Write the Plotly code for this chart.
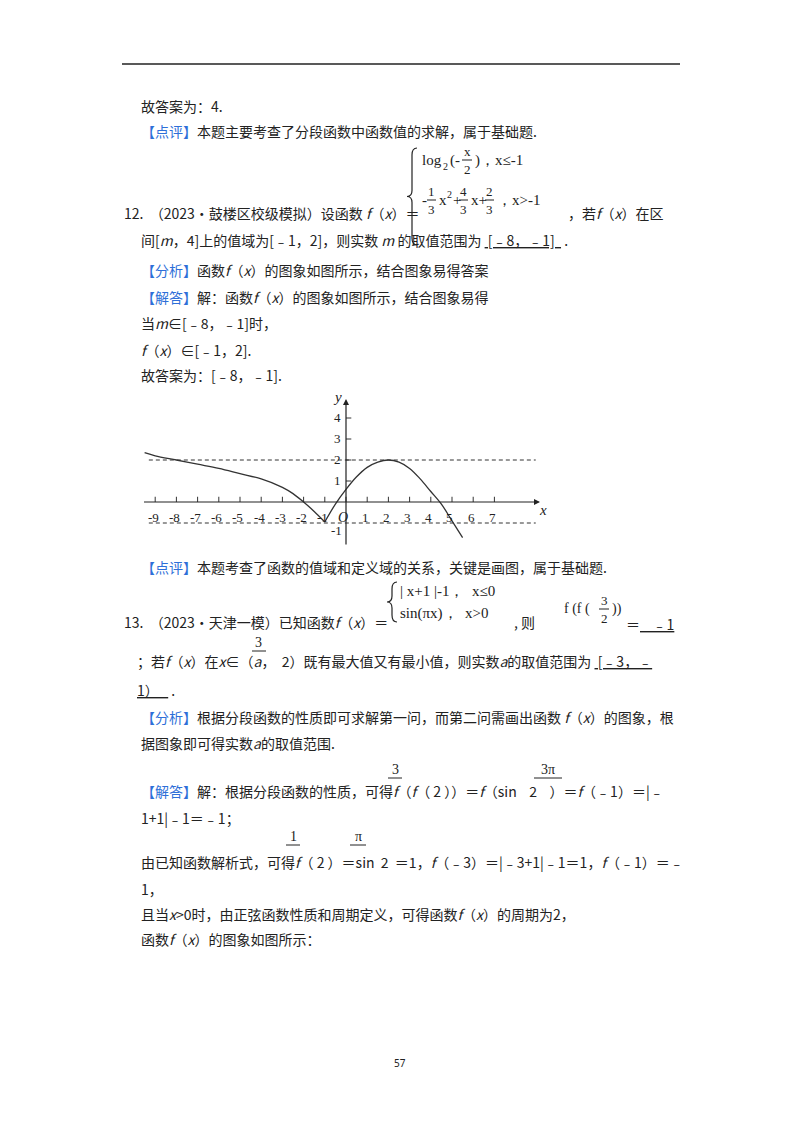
import plotly.graph_objects as go

# ---- data ----
log_x = [-9.5, -9, -8, -7, -6, -5, -4, -3, -2.5, -2, -1.5, -1]
log_y = [2.35, 2.2, 2.0, 1.8, 1.6, 1.35, 1.1, 0.7, 0.4, 0.0, -0.45, -0.95]
par_x = [-1, -0.5, 0, 0.5, 1, 1.5, 2, 2.5, 3, 3.5, 4, 4.5, 5, 5.5]
par_y = [-0.95, -0.1, 0.6, 1.2, 1.65, 1.9, 2.0, 1.9, 1.6, 1.1, 0.5, -0.1, -0.9, -1.7]
x_ticks = [-9, -8, -7, -6, -5, -4, -3, -2, -1, 1, 2, 3, 4, 5, 6, 7]
y_ticks = [1, 2, 3, 4]
y_tick_labels = ["1", "2", "3", "4"]
dash_levels = [2, -1]

W, H = 800, 1132
OFF = 8  # page body margin
CJK = "Noto Sans CJK SC"
SERIF = "Liberation Serif"
BLUE = "#2e6fd8"

fig = go.Figure()
ann = []
shapes = []

def px2(px, py):
    return (px - OFF) / W, 1 - (py - OFF) / H

def T(px, py, text, size=14, font=CJK, anchor="left", color="#222"):
    x, y = px2(px, py)
    ann.append(dict(x=x, y=y, xref="paper", yref="paper", text=text,
                    showarrow=False, xanchor=anchor, yanchor="middle",
                    font=dict(family=font, size=size, color=color)))

def L(x0, y0, x1, y1, w=1, color="#222"):
    a, b = px2(x0, y0)
    c, d = px2(x1, y1)
    shapes.append(dict(type="line", xref="paper", yref="paper", x0=a, y0=b, x1=c, y1=d,
                       line=dict(color=color, width=w)))

def brace(x, top, bot):
    mid = (top + bot) / 2
    pts = [(x + 5, top), (x, top), (x, top + 7), (x, mid - 6), (x, mid), (x - 5, mid),
           (x, mid), (x, mid + 6), (x, bot - 7), (x, bot), (x + 5, bot)]
    P = [px2(a, b) for a, b in pts]
    f = lambda p: f"{p[0]:.5f},{p[1]:.5f}"
    path = (f"M{f(P[0])} Q{f(P[1])} {f(P[2])} L{f(P[3])} Q{f(P[4])} {f(P[5])} "
            f"Q{f(P[6])} {f(P[7])} L{f(P[8])} Q{f(P[9])} {f(P[10])}")
    shapes.append(dict(type="path", xref="paper", yref="paper", path=path,
                       line=dict(color="#222", width=1.2)))

def B(t):
    return f"<span style='color:{BLUE}'>{t}</span>"

def frac(px, py, num, den, size=13, width=14):
    T(px + width / 2, py - 9, num, size, SERIF, "center")
    L(px, py, px + width, py, 1)
    if den:
        T(px + width / 2, py + 9, den, size, SERIF, "center")

# page header rule and number
L(122, 64, 680, 64, 1.5)
T(400, 1063, "57", 10, "Noto Sans", "center")

# ---- problem 11 tail ----
T(139, 106, "故答案为：4.")
T(139, 131, B("【点评】") + "本题主要考查了分段函数中函数值的求解，属于基础题.")

# ---- problem 12 ----
brace(412, 148, 245)
T(420, 160, "log", 15, SERIF)
T(441, 166, "2", 10, SERIF)
T(448, 160, "(-", 15, SERIF)
frac(462, 160, "x", "2", 13, 10)
T(473, 160, ")，x≤-1", 15, SERIF)
T(420, 200, "-", 15, SERIF)
frac(427, 200, "1", "3", 13, 9)
T(437, 200, "x", 15, SERIF)
T(445, 194, "2", 10, SERIF)
T(451, 200, "+", 15, SERIF)
frac(459, 200, "4", "3", 13, 9)
T(469, 200, "x+", 15, SERIF)
frac(485, 200, "2", "3", 13, 9)
T(495, 200, "，x>-1", 15, SERIF)
T(122, 213, "12.  （2023•鼓楼区校级模拟）设函数 <i>f</i>（<i>x</i>）＝")
T(566, 213, "，若<i>f</i>（<i>x</i>）在区")
T(139, 240, "间[<i>m</i>，4]上的值域为[﹣1，2]，则实数 <i>m</i> 的取值范围为 <u> [﹣8，﹣1]  </u> .")
T(139, 270, B("【分析】") + "函数<i>f</i>（<i>x</i>）的图象如图所示，结合图象易得答案")
T(139, 297, B("【解答】") + "解：函数<i>f</i>（<i>x</i>）的图象如图所示，结合图象易得")
T(139, 323, "当<i>m</i>∈[﹣8，﹣1]时，")
T(139, 350, "<i>f</i>（<i>x</i>）∈[﹣1，2].")
T(139, 375, "故答案为：[﹣8，﹣1].")

# ---- chart ----
sx = 21.2
x0px, y0px = 346, 502
xr = [(140 - x0px) / sx, (545 - x0px) / sx]
yr = [(y0px - 548) / 21.0, (y0px - 390) / 21.0]

for lv in dash_levels:
    fig.add_trace(go.Scatter(x=[-9.3, 8.95], y=[lv, lv], mode="lines",
                             line=dict(color="#333", width=1, dash="4px,3px"), hoverinfo="skip"))
fig.add_trace(go.Scatter(x=log_x, y=log_y, mode="lines", line=dict(color="#333", width=1.3, shape="spline")))
fig.add_trace(go.Scatter(x=par_x, y=par_y, mode="lines", line=dict(color="#333", width=1.3, shape="spline")))

for t in x_ticks + [0]:
    shapes.append(dict(type="line", xref="x", yref="y", x0=t, x1=t, y0=0, y1=0.25,
                       line=dict(color="#333", width=1)))
    if t != 0:
        ann.append(dict(x=t - 0.1, y=-0.75, xref="x", yref="y", text=str(t), showarrow=False,
                        font=dict(family=SERIF, size=13, color="#222")))
for t, lab in zip(y_ticks, y_tick_labels):
    shapes.append(dict(type="line", xref="x", yref="y", x0=0, x1=0.25, y0=t, y1=t,
                       line=dict(color="#333", width=1)))
    ann.append(dict(x=-0.4, y=t, xref="x", yref="y", text=lab, showarrow=False,
                    font=dict(family=SERIF, size=13, color="#222")))
ann.append(dict(x=-0.45, y=-1.35, xref="x", yref="y", text="-1", showarrow=False,
                font=dict(family=SERIF, size=13, color="#222")))
ann.append(dict(x=-0.15, y=-0.75, xref="x", yref="y", text="<i>O</i>", showarrow=False,
                font=dict(family=SERIF, size=14, color="#222")))
ann.append(dict(x=9.3, y=-0.4, xref="x", yref="y", text="<i>x</i>", showarrow=False,
                font=dict(family=SERIF, size=15, color="#222")))
ann.append(dict(x=-0.4, y=5.0, xref="x", yref="y", text="<i>y</i>", showarrow=False,
                font=dict(family=SERIF, size=15, color="#222")))
ann.append(dict(x=9.15, y=0, ax=-9.6, ay=0, xref="x", yref="y", axref="x", ayref="y",
                showarrow=True, arrowhead=2, arrowsize=1, arrowwidth=1.2, arrowcolor="#222", text=""))
ann.append(dict(x=0, y=4.9, ax=0, ay=-2.1, xref="x", yref="y", axref="x", ayref="y",
                showarrow=True, arrowhead=2, arrowsize=1, arrowwidth=1.2, arrowcolor="#222", text=""))

T(139, 567, B("【点评】") + "本题考查了函数的值域和定义域的关系，关键是画图，属于基础题.")

# ---- problem 13 ----
brace(392, 582, 622)
T(398, 591, "| x+1 |-1，  x≤0", 15, SERIF)
T(398, 613, "sin(πx)，  x>0", 15, SERIF)
T(122, 622, "13.  （2023•天津一模）已知函数<i>f</i>（<i>x</i>）＝")
T(512, 622, ", 则")
T(562, 609, "f (f (", 14, SERIF)
frac(599, 609, "3", "2", 13, 10)
T(610, 609, "))", 14, SERIF)
T(624, 624, "＝<u>    ﹣1</u>", 14)
frac(252, 651, "3", "", 14, 14)
T(135, 661, "；若<i>f</i>（<i>x</i>）在<i>x</i>∈（<i>a</i>，  2）既有最大值又有最小值，则实数<i>a</i>的取值范围为 <u> [﹣3，﹣</u>")
T(135, 690, "<u>1）   </u> .")
T(139, 717, B("【分析】") + "根据分段函数的性质即可求解第一问，而第二问需画出函数 <i>f</i>（<i>x</i>）的图象，根")
T(139, 743, "据图象即可得实数<i>a</i>的取值范围.")

frac(388, 778, "3", "", 14, 14)
frac(534, 778, "3π", "", 14, 28)
T(139, 791, B("【解答】") + "解：根据分段函数的性质，可得<i>f</i>（<i>f</i>（ 2 ））＝<i>f</i>（sin    2    ）＝<i>f</i>（﹣1）＝|﹣")
T(139, 818, "1+1|﹣1＝﹣1；")
frac(286, 845, "1", "", 14, 14)
frac(350, 845, "π", "", 14, 16)
T(139, 862, "由已知函数解析式，可得<i>f</i>（ 2 ）＝sin  2  ＝1，<i>f</i>（﹣3）＝|﹣3+1|﹣1＝1，<i>f</i>（﹣1）＝﹣")
T(139, 889, "1，")
T(139, 914, "且当<i>x</i>>0时，由正弦函数性质和周期定义，可得函数<i>f</i>（<i>x</i>）的周期为2，")
T(139, 939, "函数<i>f</i>（<i>x</i>）的图象如图所示：")

fig.update_layout(
    width=W, height=H, margin=dict(l=0, r=0, t=0, b=0),
    paper_bgcolor="white", plot_bgcolor="rgba(0,0,0,0)", showlegend=False,
    xaxis=dict(domain=[(140 - OFF) / W, (545 - OFF) / W], range=xr, visible=False, fixedrange=True),
    yaxis=dict(domain=[1 - (548 - OFF) / H, 1 - (390 - OFF) / H], range=yr, visible=False, fixedrange=True),
    annotations=ann, shapes=shapes,
)
fig.write_html("out.html")
